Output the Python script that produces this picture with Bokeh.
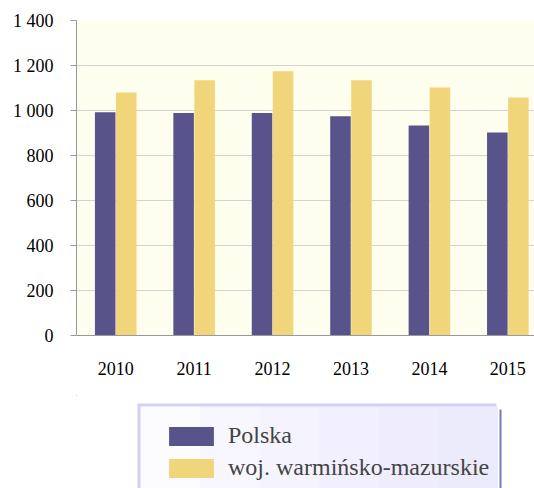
from bokeh.plotting import figure
from bokeh.layouts import column
from bokeh.models import (Range1d, FixedTicker, Legend, LegendItem, ColumnDataSource,
                          BoxAnnotation)
from bokeh.embed import file_html
from bokeh.resources import INLINE

years = ["2010", "2011", "2012", "2013", "2014", "2015"]
polska = [992, 989, 989, 975, 933, 902]
warm_maz = [1080, 1135, 1175, 1135, 1102, 1058]
y_ticks = [0, 200, 400, 600, 800, 1000, 1200, 1400]
y_tick_labels = ["0", "200", "400", "600", "800", "1 000", "1 200", "1 400"]
series_names = ["Polska", "woj. warmińsko-mazurskie"]
colors = ["#58538a", "#f0d57a"]

FONT = "'Liberation Serif'"

x_pos = [i + 0.5 for i in range(len(years))]
off = 0.134
bw = 0.262

src = ColumnDataSource(dict(
    x1=[x - off for x in x_pos], x2=[x + off for x in x_pos],
    p=polska, w=warm_maz))

p = figure(width=534, height=395, output_backend="svg", toolbar_location=None,
           x_range=Range1d(0, 5.84), y_range=Range1d(0, 1400),
           min_border_left=76, min_border_right=0, min_border_top=20,
           min_border_bottom=60)
p.outline_line_color = None
p.background_fill_color = "#fefeee"
p.border_fill_color = "white"

r1 = p.vbar(x="x1", top="p", width=bw, source=src, fill_color=colors[0], line_color=None)
r2 = p.vbar(x="x2", top="w", width=bw, source=src, fill_color=colors[1], line_color=None)

p.xgrid.visible = False
p.ygrid.grid_line_color = "#d3d3d3"
p.ygrid.grid_line_width = 1

yax = p.yaxis[0]
yax.ticker = FixedTicker(ticks=y_ticks)
yax.major_label_overrides = {t: l for t, l in zip(y_ticks, y_tick_labels)}
yax.major_tick_out = 6
yax.major_tick_in = 0
yax.minor_tick_line_color = None
yax.axis_line_color = "#999999"
yax.major_tick_line_color = "#999999"
yax.major_label_text_font = FONT
yax.major_label_text_font_size = "18px"
yax.major_label_text_color = "black"
yax.major_label_standoff = 17

xax = p.xaxis[0]
xax.ticker = FixedTicker(ticks=x_pos)
xax.major_label_overrides = {x: y for x, y in zip(x_pos, years)}
xax.major_tick_line_color = None
xax.minor_tick_line_color = None
xax.axis_line_color = "#999999"
xax.major_label_text_font = FONT
xax.major_label_text_font_size = "18px"
xax.major_label_text_color = "black"
xax.major_label_standoff = 20

# legend figure (coordinates: x = page px, y = -page px)
lf = figure(width=534, height=93, output_backend="svg", toolbar_location=None,
            x_range=Range1d(76, 534), y_range=Range1d(-488, -395),
            min_border_left=76, min_border_right=0, min_border_top=0, min_border_bottom=0)
lf.axis.visible = False
lf.grid.visible = False
lf.outline_line_color = None
lf.background_fill_color = "white"
lf.border_fill_color = "white"

lf.add_layout(BoxAnnotation(left=137, right=496, top=-403, bottom=-500,
                            fill_color="#d0d0f8", fill_alpha=1, line_color=None))
grad = ["#fcfcff", "#f8f7ff", "#f5f4fe", "#f2f0fe", "#efedfd", "#ecebfc"]
x0, x1 = 140, 497
step = (x1 - x0) / len(grad)
for i, c in enumerate(grad):
    lf.add_layout(BoxAnnotation(left=x0 + i * step, right=x0 + (i + 1) * step + 0.5,
                                top=-406, bottom=-500, fill_color=c, fill_alpha=1,
                                line_color=None))
lf.add_layout(BoxAnnotation(left=499, right=501, top=-409, bottom=-500,
                            fill_color="#7a78b8", fill_alpha=1, line_color=None))

# legend glyph proxies: same data, outside the visible range
l1 = lf.vbar(x="x1", top="p", width=bw, source=src, fill_color=colors[0], line_color=None)
l2 = lf.vbar(x="x2", top="w", width=bw, source=src, fill_color=colors[1], line_color=None)

legend = Legend(items=[LegendItem(label=series_names[0], renderers=[l1]),
                       LegendItem(label=series_names[1], renderers=[l2])],
                location=(87, 7))
legend.label_text_font = FONT
legend.label_text_font_size = "24px"
legend.glyph_width = 56
legend.glyph_height = 24
legend.label_height = 19
legend.label_standoff = 9
legend.spacing = 5
legend.padding = 10
legend.margin = 0
legend.border_line_color = None
legend.background_fill_alpha = 0
lf.add_layout(legend, "center")

layout = column(p, lf, spacing=0)
open("out.html", "w").write(file_html(layout, INLINE))
